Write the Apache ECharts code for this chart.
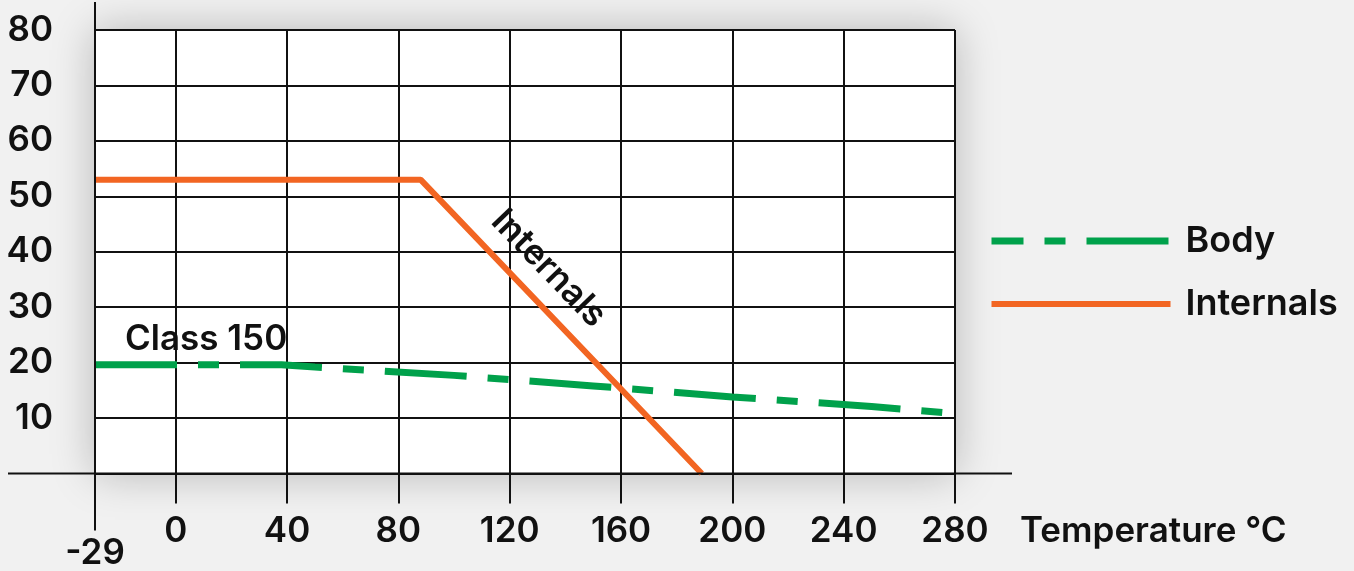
<!DOCTYPE html>
<html><head><meta charset="utf-8">
<script src="https://cdn.jsdelivr.net/npm/echarts@6/dist/echarts.min.js"></script>
<style>html,body{margin:0;padding:0;background:#f1f1f1}#c{width:1354px;height:571px}</style>
</head><body><div id="c"></div>
<script>
// ---- data ----
const xTicks = [-29, 0, 40, 80, 120, 160, 200, 240, 280];
const bodyTemp = [-29, 38, 50, 100, 150, 200, 250, 280];
const bodyRating = [19.6, 19.6, 19.2, 17.7, 15.8, 13.8, 12.1, 10.8];
const internalsTemp = [-29, 88, 189];
const internalsRating = [53, 53, 0];
const seriesNames = ['Body', 'Internals'];
const classLabel = 'Class 150';
const xName = 'Temperature °C';

const FONT = 'Inter';
const FS = 35;
const INK = '#111';
const GREEN = '#00a14b';
const ORANGE = '#f26522';

const pairs = (xs, ys) => xs.map((x, i) => [x, ys[i]]);

const chart = echarts.init(document.getElementById('c'), null, {renderer: 'canvas'});
const lineStyleGrid = {color: INK, width: 2};
const txt = {fontFamily: FONT, fontWeight: 600, fontSize: FS, color: INK};
const option = {
  backgroundColor: '#f1f1f1',
  animation: false,
  textStyle: {fontFamily: FONT, fontWeight: 600, color: INK},
  grid: {left: 95, top: 30, width: 860, height: 445, show: true, backgroundColor: '#fff',
         borderWidth: 0, shadowBlur: 40, shadowColor: 'rgba(0,0,0,0.25)'},
  legend: {
    orient: 'vertical', left: 988, top: 221, padding: 0,
    itemWidth: 179, itemHeight: 40, itemGap: 23,
    data: [
      {name: seriesNames[0], lineStyle: {width: 7, dashOffset: 50}},
      {name: seriesNames[1], lineStyle: {width: 6}}
    ],
    textStyle: {fontFamily: FONT, fontWeight: 600, fontSize: 36, color: INK, lineHeight: 40, padding: [0, 0, 0, 10]},
    lineStyle: {width: 7, dashOffset: 50},
    itemStyle: {opacity: 0}
  },
  xAxis: {
    type: 'value', min: -29, max: 280,
    axisLine: {show: false},
    axisTick: {show: true, customValues: xTicks, length: 30, lineStyle: lineStyleGrid},
    axisLabel: Object.assign({
      customValues: xTicks, margin: 58, verticalAlign: 'middle',
      formatter: v => v === -29 ? '{low|-29}' : String(v),
      rich: {low: Object.assign({padding: [44, 0, 0, 0]}, txt)}
    }, txt),
    splitLine: {show: true, lineStyle: lineStyleGrid},
    name: '{n|' + xName + '}', nameLocation: 'end', nameGap: 65,
    nameTextStyle: Object.assign({align: 'left', verticalAlign: 'middle',
      rich: {n: Object.assign({padding: [116, 0, 0, 0]}, txt)}}, txt)
  },
  yAxis: {
    type: 'value', min: 0, max: 80, interval: 10,
    axisLine: {show: true, lineStyle: lineStyleGrid},
    axisTick: {show: true, length: 32, lineStyle: lineStyleGrid},
    axisLabel: Object.assign({margin: 42, formatter: v => v === 0 ? '' : String(v)}, txt),
    splitLine: {show: true, lineStyle: lineStyleGrid}
  },
  series: [
    {
      name: seriesNames[0], type: 'line', symbol: 'none', data: pairs(bodyTemp, bodyRating),
      lineStyle: {color: GREEN, width: 7, type: [82, 21, 21, 21], dashOffset: 0, cap: 'butt'},
      itemStyle: {color: GREEN},
      markPoint: {
        silent: true, symbol: 'circle', symbolSize: 0,
        data: [{coord: [bodyTemp[0], bodyRating[0]], value: classLabel}],
        label: Object.assign({show: true, position: [30, -8], align: 'left', verticalAlign: 'bottom',
                formatter: classLabel}, txt)
      }
    },
    {
      name: seriesNames[1], type: 'line', symbol: 'none', data: pairs(internalsTemp, internalsRating),
      lineStyle: {color: ORANGE, width: 6},
      itemStyle: {color: ORANGE},
      markPoint: {
        silent: true, symbol: 'circle', symbolSize: 0,
        data: [{coord: [134, 37], value: seriesNames[1]}],
        label: Object.assign({show: true, position: 'inside', align: 'center', verticalAlign: 'middle', rotate: -46,
                formatter: seriesNames[1]}, txt)
      }
    }
  ]
};
chart.setOption(option);

// extended axis lines, positioned from the axes' own scales
const [x0, y0] = chart.convertToPixel({gridIndex: 0}, [xTicks[0], 0]);
const [, yTop] = chart.convertToPixel({gridIndex: 0}, [xTicks[0], 80]);
chart.setOption({
  graphic: [
    {type: 'line', shape: {x1: 8, y1: y0, x2: 1012, y2: y0}, style: {stroke: INK, lineWidth: 2}, z: 10},
    {type: 'line', shape: {x1: x0, y1: yTop - 28, x2: x0, y2: y0 + 57}, style: {stroke: INK, lineWidth: 2}, z: 10}
  ]
});
</script></body></html>
